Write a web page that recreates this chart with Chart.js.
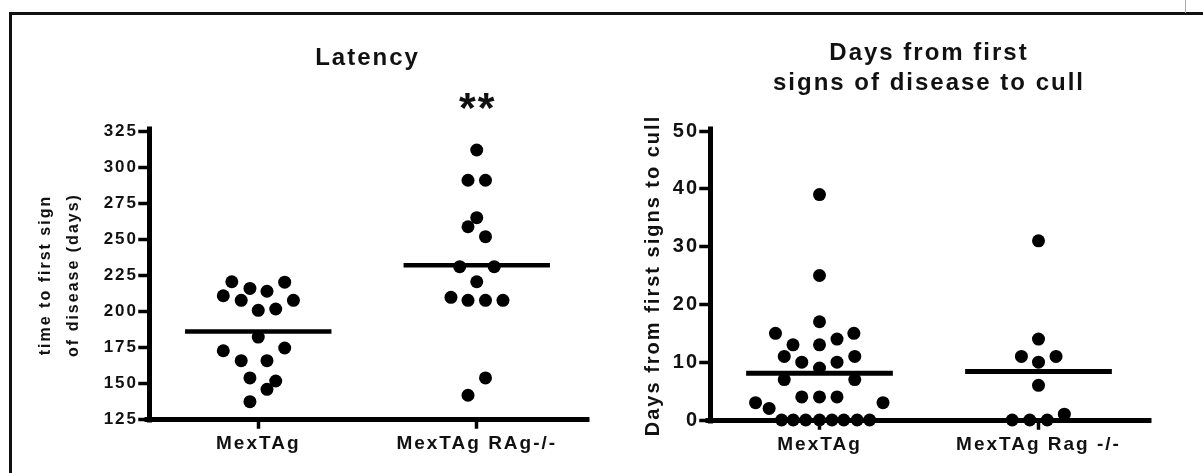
<!DOCTYPE html>
<html><head><meta charset="utf-8">
<script src="https://cdn.jsdelivr.net/npm/chart.js@4/dist/chart.umd.min.js"></script>
<style>
html,body{margin:0;padding:0;background:#fff;width:1203px;height:473px;overflow:hidden;}
#frame{position:absolute;left:9px;top:12px;width:1194px;height:461px;border-top:3px solid #111;border-left:3px solid #111;box-sizing:border-box;}
#corner{position:absolute;left:1185px;top:0;width:1px;height:13px;background:#aaa;}
#c1{position:absolute;left:0;top:0;}
#c2{position:absolute;left:600px;top:0;}
</style></head><body>
<div id="frame"></div><div id="corner"></div>
<canvas id="c1" width="600" height="473"></canvas>
<canvas id="c2" width="603" height="473"></canvas>
<script>
// ---------- data: Latency panel ----------
const latencyCategories = ['MexTAg', 'MexTAg RAg-/-'];
const latencyTicks = [125, 150, 175, 200, 225, 250, 275, 300, 325];
const latencyMexTAg = [220.3, 220, 215.7, 213.7, 210.6, 207.4, 207.4, 200.5, 201.4, 181.9, 172.4, 174.3, 165.5, 165.5, 153.5, 151.4, 145.6, 137];
const latencyMexTAgJitter = [-0.121, 0.121, -0.038, 0.04, -0.16, -0.078, 0.161, 0, 0.08, 0, -0.16, 0.121, -0.078, 0.04, -0.038, 0.08, 0.04, -0.038];
const latencyRag = [311.8, 290.8, 290.8, 264.8, 258.5, 251.6, 230.8, 230.8, 220.3, 209.5, 207.4, 207.4, 207.4, 153.5, 141.5];
const latencyRagJitter = [0, -0.04, 0.04, 0, -0.04, 0.04, -0.078, 0.08, 0, -0.118, -0.04, 0.04, 0.12, 0.04, -0.04];
const latencyMeans = [185.8, 231.8];
const latencySignificance = ['', '**'];

// ---------- data: Days-to-cull panel ----------
const cullCategories = ['MexTAg', 'MexTAg Rag -/-'];
const cullTicks = [0, 10, 20, 30, 40, 50];
const cullMexTAg = [39, 25, 17, 15, 15, 14, 13, 13, 11, 11, 10, 10, 9, 7, 7, 4, 4, 4, 3, 3, 2, 0, 0, 0, 0, 0, 0, 0, 0];
const cullMexTAgJitter = [0, 0, 0, -0.201, 0.157, 0.08, -0.121, 0, -0.161, 0.161, -0.081, 0.08, 0, -0.161, 0.161, -0.081, 0, 0.08, -0.292, 0.29, -0.23, -0.173, -0.12, -0.063, 0, 0.057, 0.111, 0.172, 0.229];
const cullRag = [31, 14, 11, 11, 10, 6, 1, 0, 0, 0];
const cullRagJitter = [0, 0, -0.078, 0.08, 0, 0, 0.118, -0.12, -0.04, 0.04];
const cullMeans = [8.1, 8.4];

const FONT = '"Liberation Sans", Arial, Helvetica, sans-serif';
const INK = '#111';

const spacing = {
  id: 'spacing',
  beforeUpdate(chart) { chart.ctx.letterSpacing = '2px'; chart.ctx.lineCap = 'square'; },
  beforeDraw(chart) { chart.ctx.letterSpacing = '2px'; chart.ctx.lineCap = 'square'; }
};

const stars = {
  id: 'stars',
  afterDraw(chart, args, o) {
    if (!o || !o.labels) return;
    const ctx = chart.ctx;
    ctx.save();
    ctx.font = 'bold ' + o.size + 'px ' + FONT;
    ctx.fillStyle = INK;
    ctx.textAlign = 'center';
    ctx.textBaseline = 'alphabetic';
    o.labels.forEach((t, i) => {
      if (!t) return;
      ctx.fillText(t, chart.scales.x.getPixelForValue(i + 1) + 1, o.baseline);
    });
    ctx.restore();
  }
};

function points(values, jitter, cat) {
  return values.map((v, i) => ({ x: cat + jitter[i], y: v }));
}
function meanLine(m, cat, half) {
  return [{ x: cat - half, y: m }, { x: cat + half, y: m }];
}

function buildChart(canvas, cfg) {
  const dotStyle = { type: 'scatter', backgroundColor: '#000', borderWidth: 0, pointRadius: 6.5, clip: false };
  const lineStyle = { type: 'line', borderColor: '#000', borderWidth: cfg.meanWidth, pointRadius: 0, fill: false, clip: false, borderCapStyle: 'butt' };
  return new Chart(canvas, {
    type: 'scatter',
    data: {
      datasets: [
        Object.assign({ data: points(cfg.a, cfg.aj, 1) }, dotStyle),
        Object.assign({ data: points(cfg.b, cfg.bj, 2) }, dotStyle),
        Object.assign({ data: meanLine(cfg.means[0], 1, 0.335) }, lineStyle),
        Object.assign({ data: meanLine(cfg.means[1], 2, 0.335) }, lineStyle)
      ]
    },
    options: {
      responsive: false, animation: false, events: [],
      layout: { padding: { left: 0, right: cfg.padRight, top: 0, bottom: 0 } },
      plugins: {
        legend: { display: false }, tooltip: { enabled: false },
        title: {
          display: true, text: cfg.title, fullSize: false, color: INK,
          font: { family: FONT, size: 24, weight: 'bold', lineHeight: cfg.titleLH },
          padding: cfg.titlePad
        },
        stars: cfg.stars
      },
      scales: {
        x: {
          type: 'linear', min: 0.5, max: 2.5,
          afterBuildTicks: s => { s.ticks = [{ value: 1 }, { value: 2 }]; },
          ticks: { callback: v => cfg.cats[Math.round(v) - 1], color: INK, padding: 5, maxRotation: 0, autoSkip: false,
                   font: { family: FONT, size: 19, weight: 'bold' } },
          grid: { drawOnChartArea: false, drawTicks: true, tickLength: 8, tickWidth: 3.5, tickColor: '#000' },
          border: { display: true, width: 5, color: '#000' },
          afterFit: s => { s.height = cfg.xHeight; }
        },
        y: {
          min: cfg.ticks[0], max: cfg.ticks[cfg.ticks.length - 1],
          afterBuildTicks: s => { s.ticks = cfg.ticks.map(v => ({ value: v })); },
          ticks: { color: INK, padding: 2, font: { family: FONT, size: cfg.yTickSize, weight: 'bold' } },
          grid: { drawOnChartArea: false, drawTicks: true, tickLength: 9, tickWidth: 3.5, tickColor: '#000' },
          border: { display: true, width: 5, color: '#000' },
          title: { display: true, text: cfg.yTitle, color: INK,
                   font: { family: FONT, size: cfg.yTitleSize, weight: 'bold', lineHeight: cfg.yTitleLH },
                   padding: { top: cfg.yTitlePad, bottom: 0 } },
          afterFit: s => { s.width = cfg.yWidth; }
        }
      }
    },
    plugins: [spacing, stars]
  });
}

buildChart(document.getElementById('c1'), {
  a: latencyMexTAg, aj: latencyMexTAgJitter, b: latencyRag, bj: latencyRagJitter,
  means: latencyMeans, cats: latencyCategories, ticks: latencyTicks,
  title: 'Latency', titleLH: 1.2, titlePad: { top: 43.6, bottom: 58.6 },
  yTitle: ['time to first sign', 'of disease (days)'], yTitleSize: 16, yTitleLH: 1.75, yTitlePad: 32,
  yTickSize: 17, yWidth: 149, xHeight: 54, padRight: 14, meanWidth: 4.5,
  stars: { labels: latencySignificance, size: 43, baseline: 122 }
});

buildChart(document.getElementById('c2'), {
  a: cullMexTAg, aj: cullMexTAgJitter, b: cullRag, bj: cullRagJitter,
  means: cullMeans, cats: cullCategories, ticks: cullTicks,
  title: ['Days from first', 'signs of disease to cull'], titleLH: 1.25, titlePad: { top: 38, bottom: 33 },
  yTitle: 'Days from first signs to cull', yTitleSize: 20, yTitleLH: 1.2, yTitlePad: 41,
  yTickSize: 20, yWidth: 110, xHeight: 53, padRight: 55, meanWidth: 5,
  stars: null
});
</script>
</body></html>
